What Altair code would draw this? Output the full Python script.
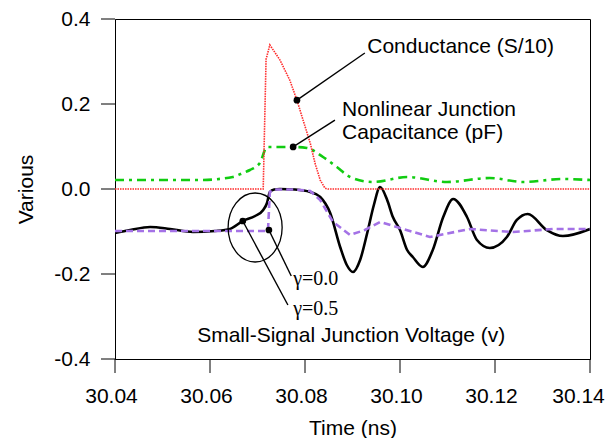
import altair as alt
import pandas as pd

# ---- data (time in ns, value) ----
black_t = [30.0400, 30.0432, 30.0474, 30.0516, 30.0564, 30.0611, 30.0642, 30.0669, 30.0695,
           30.0712, 30.0720, 30.0726, 30.0735, 30.0747, 30.0779, 30.0811, 30.0832, 30.0853,
           30.0874, 30.0888, 30.0901, 30.0916, 30.0931, 30.0945, 30.0958, 30.0973, 30.0985,
           30.1000, 30.1015, 30.1027, 30.1048, 30.1069, 30.1091, 30.1112, 30.1141, 30.1162,
           30.1189, 30.1225, 30.1246, 30.1269, 30.1309, 30.1343, 30.1400]
black_v = [-0.1035, -0.0965, -0.0894, -0.0941, -0.1012, -0.0988, -0.0941, -0.0753, -0.0635,
           -0.0494, -0.0329, -0.0071, -0.0012, 0.0, -0.0012, -0.0071, -0.0188, -0.0565,
           -0.1365, -0.1788, -0.1953, -0.1671, -0.1035, -0.0376, 0.0047, -0.0259, -0.0659,
           -0.0965, -0.1435, -0.1600, -0.1835, -0.1435, -0.0659, -0.0235, -0.0659, -0.1200,
           -0.1388, -0.1129, -0.0729, -0.0588, -0.0965, -0.1106, -0.0941]

purple_t = [30.0400, 30.0500, 30.0600, 30.0700, 30.0722, 30.0726, 30.0735, 30.0779, 30.0811,
            30.0832, 30.0859, 30.0895, 30.0926, 30.0958, 30.1000, 30.1063, 30.1147, 30.1238,
            30.1322, 30.1400]
purple_v = [-0.0988, -0.0988, -0.0988, -0.0988, -0.0988, -0.0071, -0.0012, -0.0012, -0.0047,
            -0.0259, -0.0776, -0.1082, -0.0965, -0.0776, -0.0918, -0.1129, -0.0941, -0.1012,
            -0.0941, -0.0941]

green_t = [30.0400, 30.0500, 30.0579, 30.0648, 30.0669, 30.0684, 30.0705, 30.0720, 30.0747,
           30.0775, 30.0804, 30.0838, 30.0867, 30.0895, 30.0943, 30.1015, 30.1099, 30.1189,
           30.1259, 30.1343, 30.1400]
green_v = [0.0212, 0.0212, 0.0212, 0.0282, 0.0376, 0.0447, 0.0612, 0.0988, 0.0988,
           0.0988, 0.0965, 0.0753, 0.0518, 0.0282, 0.0165, 0.0282, 0.0165, 0.0259,
           0.0165, 0.0235, 0.0212]

red_t = [30.0400, 30.0712, 30.0718, 30.0726, 30.0747, 30.0768, 30.0783, 30.0796, 30.0811,
         30.0821, 30.0832, 30.0842, 30.0848, 30.1400]
red_v = [0.0, 0.0, 0.305, 0.339, 0.304, 0.256, 0.209, 0.162, 0.108,
         0.061, 0.021, 0.002, 0.0, 0.0]

# annotation texts
ann_text = ["Conductance (S/10)", "Nonlinear Junction", "Capacitance (pF)",
            "Small-Signal Junction Voltage (v)"]
ann_t = [30.0931, 30.0878, 30.0878, 30.0573]
ann_v = [0.320, 0.172, 0.117, -0.360]

gamma_text = ["\u03b3=0.0", "\u03b3=0.5"]
gamma_t = [30.0775, 30.0775]
gamma_v = [-0.226, -0.296]

# leader lines (from label to dot)
lead_t1 = [30.0926, 30.0863, 30.0764, 30.0771]
lead_v1 = [0.320, 0.162, -0.273, -0.2047]
lead_t2 = [30.0783, 30.0775, 30.0669, 30.0724]
lead_v2 = [0.209, 0.099, -0.0753, -0.0965]

ellipse_t = [30.0695]
ellipse_v = [-0.0906]

x_ticks = [30.04, 30.06, 30.08, 30.10, 30.12, 30.14]
y_ticks = [-0.4, -0.2, 0.0, 0.2, 0.4]

FONT = "Liberation Sans"
W, H = 475, 340
TICK = 14

xs = alt.Scale(domain=[30.04, 30.14], nice=False, zero=False)
ys = alt.Scale(domain=[-0.4, 0.4], nice=False, zero=False)

xax = alt.Axis(values=x_ticks, format=".2f", grid=False, labelFlush=False, labelOverlap=False,
               ticks=False, labelPadding=TICK + 12,
               labelOffset={"condition": {"test": "datum.value > 30.139", "value": -12}, "value": -4},
               titleY=75, titleBaseline="alphabetic")
yax = alt.Axis(values=y_ticks, grid=False, ticks=False, labelPadding=TICK + 11, labelFlush=False,
               labelOverlap=False,
               labelExpr="datum.value < 0 ? '-' + format(-datum.value, '.1f') : format(datum.value, '.1f')",
               titleX=-83, titleY=170, titleAngle=-90, titleBaseline="alphabetic", titleAlign="center")


def X(field, axis=True):
    if axis:
        return alt.X(field, type="quantitative", scale=xs, axis=xax, title="Time (ns)")
    return alt.X(field, type="quantitative", scale=xs, title="Time (ns)")


def Y(field, axis=True):
    if axis:
        return alt.Y(field, type="quantitative", scale=ys, axis=yax, title="Various")
    return alt.Y(field, type="quantitative", scale=ys, title="Various")


def line_layer(t, v, color, width, dash=None, interp="monotone", axis=False):
    df = pd.DataFrame({"t": t, "v": v})
    kw = dict(color=color, strokeWidth=width, interpolate=interp, clip=True)
    if dash:
        kw["strokeDash"] = dash
    return alt.Chart(df).mark_line(**kw).encode(x=X("t", axis), y=Y("v", axis))


black = line_layer(black_t, black_v, "#000000", 2.6, axis=True)
purple = line_layer(purple_t, purple_v, "#a472e6", 2.6, dash=[7, 4], interp="linear")
green = line_layer(green_t, green_v, "#11cc11", 2.6, dash=[9, 5, 3, 5])
red = line_layer(red_t, red_v, "#ff2a2a", 1.6, dash=[1.5, 1], interp="linear")

# outward tick marks drawn as rules at the axis values
xtick = alt.Chart(pd.DataFrame({"t": x_ticks})).mark_rule(color="black", strokeWidth=1).encode(
    x=X("t", False), y=alt.value(H), y2=alt.value(H + TICK))
ytick = alt.Chart(pd.DataFrame({"v": y_ticks})).mark_rule(color="black", strokeWidth=1).encode(
    y=Y("v", False), x=alt.value(0), x2=alt.value(-TICK))

lead_df = pd.DataFrame({"t1": lead_t1, "v1": lead_v1, "t2": lead_t2, "v2": lead_v2})
leads = alt.Chart(lead_df).mark_rule(color="black", strokeWidth=1.4).encode(
    x=X("t1", False), y=Y("v1", False), x2="t2:Q", y2="v2:Q")
dots = alt.Chart(lead_df).mark_point(filled=True, color="black", size=45, opacity=1).encode(
    x=X("t2", False), y=Y("v2", False))

ellipse_path = ("M0.783,0 C0.783,0.552 0.432,1 0,1 C-0.432,1 -0.783,0.552 -0.783,0 "
                "C-0.783,-0.552 -0.432,-1 0,-1 C0.432,-1 0.783,-0.552 0.783,0 Z")
ell = alt.Chart(pd.DataFrame({"t": ellipse_t, "v": ellipse_v})).mark_point(
    shape=ellipse_path, size=4761, filled=False, color="black", strokeWidth=1.3, opacity=1
).encode(x=X("t", False), y=Y("v", False))

texts = alt.Chart(pd.DataFrame({"t": ann_t, "v": ann_v, "s": ann_text})).mark_text(
    align="left", baseline="alphabetic", font=FONT, fontSize=21, color="black"
).encode(x=X("t", False), y=Y("v", False), text="s:N")

gtexts = alt.Chart(pd.DataFrame({"t": gamma_t, "v": gamma_v, "s": gamma_text})).mark_text(
    align="left", baseline="alphabetic", font="Liberation Serif", fontSize=20, color="black"
).encode(x=X("t", False), y=Y("v", False), text="s:N")

chart = alt.layer(black, purple, green, red, xtick, ytick, leads, dots, ell, texts, gtexts).properties(
    width=W, height=H,
    padding={"left": 107, "top": 11, "right": 15, "bottom": 79},
    autosize=alt.AutoSizeParams(type="none"),
).configure_view(stroke="black", strokeWidth=1).configure_axis(
    domainColor="black", domainWidth=1,
    labelFont=FONT, labelFontSize=21, labelColor="black",
    titleFont=FONT, titleFontSize=21, titleColor="black", titleFontWeight="normal",
)

chart.save("out.html", embed_options={"renderer": "svg", "actions": False})
